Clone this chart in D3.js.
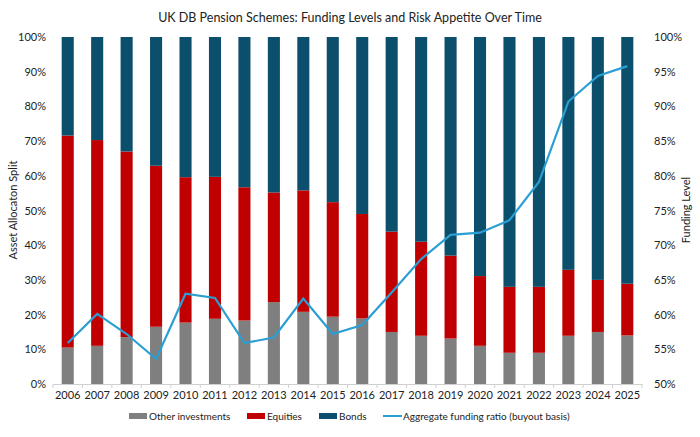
<!DOCTYPE html>
<html>
<head>
<meta charset="utf-8">
<script src="https://cdn.jsdelivr.net/npm/d3@7"></script>
<style>
  body { margin: 0; background: #fff; }
  svg { font-family: Lato, "Open Sans", sans-serif; }
</style>
</head>
<body>
<svg id="chart" width="700" height="437"></svg>
<script>
  // data
  let years = ['2006','2007','2008','2009','2010','2011','2012','2013','2014','2015',
               '2016','2017','2018','2019','2020','2021','2022','2023','2024','2025']
  let other    = [10.5, 11, 13.5, 16.5, 17.7, 18.8, 18.3, 23.6, 20.8, 19.4, 18.9, 15, 13.9, 13.1, 11, 9, 9, 13.9, 15, 14]
  let equities = [61.1, 59.3, 53.5, 46.4, 41.9, 40.9, 38.4, 31.6, 35, 33, 30.1, 28.9, 27.1, 23.9, 20.1, 19, 19, 19, 15, 14.9]
  let funding  = [55.9, 60.1, 57.2, 53.6, 63, 62.4, 55.9, 56.7, 62.3, 57.2, 58.5, 63.2, 68, 71.5, 71.8, 73.6, 79.1, 90.7, 94.4, 95.8]
  let leftTicks = [0, 10, 20, 30, 40, 50, 60, 70, 80, 90, 100]
  let rightTicks = [50, 55, 60, 65, 70, 75, 80, 85, 90, 95, 100]

  let colors = { other: '#7f7f7f', equities: '#c00000', bonds: '#0b4f6c', line: '#2b9fd3' }

  let svg = d3.select('#chart')
  let plotTop = 37, plotBottom = 384

  let x = d3.scaleBand().domain(years).range([53, 642]).paddingInner(0.59).paddingOuter(0.295)
  let yL = d3.scaleLinear().domain([0, 100]).range([plotBottom, plotTop])
  let yR = d3.scaleLinear().domain([50, 100]).range([plotBottom, plotTop])

  let rows = years.map((yr, i) => ({
    year: yr,
    other: other[i],
    equities: equities[i],
    bonds: 100 - other[i] - equities[i]
  }))

  let stack = d3.stack().keys(['other', 'equities', 'bonds'])
  let series = stack(rows)

  svg.append('text')
    .attr('x', 350).attr('y', 22)
    .attr('text-anchor', 'middle')
    .attr('font-size', 12.5)
    .attr('fill', '#222')
    .text('UK DB Pension Schemes: Funding Levels and Risk Appetite Over Time')

  svg.append('g')
    .selectAll('g')
    .data(series)
    .enter()
    .append('g')
    .attr('fill', d => colors[d.key])
    .selectAll('rect')
    .data(d => d)
    .enter()
    .append('rect')
    .attr('x', d => x(d.data.year))
    .attr('width', x.bandwidth())
    .attr('y', d => yL(d[1]))
    .attr('height', d => yL(d[0]) - yL(d[1]))

  // left axis labels
  let leftAxis = svg.append('g')
    .attr('transform', 'translate(46,0)')
    .call(d3.axisLeft(yL).tickValues(leftTicks).tickSize(0).tickPadding(0).tickFormat(d => d + '%'))
  leftAxis.select('.domain').remove()
  leftAxis.selectAll('text').attr('font-size', 11).attr('fill', '#222')
  leftAxis.attr('font-family', null)

  let rightAxis = svg.append('g')
    .attr('transform', 'translate(654,0)')
    .call(d3.axisRight(yR).tickValues(rightTicks).tickSize(0).tickPadding(0).tickFormat(d => d + '%'))
  rightAxis.select('.domain').remove()
  rightAxis.selectAll('text').attr('font-size', 11).attr('fill', '#222')
  rightAxis.attr('font-family', null)

  // x axis
  let xAxis = svg.append('g')
    .attr('transform', `translate(0,${plotBottom})`)
    .call(d3.axisBottom(x).tickSize(0).tickPadding(7))
  xAxis.select('.domain').attr('stroke', '#d0d0d0')
  xAxis.selectAll('text').attr('font-size', 11).attr('fill', '#222')
  xAxis.attr('font-family', null)
  svg.append('g')
    .selectAll('line')
    .data(years.concat(['end']))
    .enter()
    .append('line')
    .attr('x1', (d, i) => 53 + i * x.step())
    .attr('x2', (d, i) => 53 + i * x.step())
    .attr('y1', plotBottom).attr('y2', plotBottom + 4)
    .attr('stroke', '#d0d0d0')

  // funding line
  let line = d3.line()
    .x((d, i) => x(years[i]) + x.bandwidth() / 2)
    .y(d => yR(d))
  svg.append('path')
    .datum(funding)
    .attr('d', line)
    .attr('fill', 'none')
    .attr('stroke', colors.line)
    .attr('stroke-width', 2.2)

  // axis titles
  svg.append('text')
    .attr('transform', 'translate(17,210) rotate(-90)')
    .attr('text-anchor', 'middle')
    .attr('font-size', 11)
    .attr('fill', '#222')
    .text('Asset Allocaton Split')
  svg.append('text')
    .attr('transform', 'translate(690,210) rotate(-90)')
    .attr('text-anchor', 'middle')
    .attr('font-size', 11)
    .attr('fill', '#222')
    .text('Funding Level')

  // legend
  let legendItems = [
    { label: 'Other investments', key: 'other', x: 129, type: 'rect' },
    { label: 'Equities', key: 'equities', x: 247, type: 'rect' },
    { label: 'Bonds', key: 'bonds', x: 319, type: 'rect' },
    { label: 'Aggregate funding ratio (buyout basis)', key: 'line', x: 383, type: 'line' }
  ]
  let legend = svg.append('g').attr('transform', 'translate(0,416)')
  legendItems.forEach(it => {
    if (it.type === 'rect') {
      legend.append('rect').attr('x', it.x).attr('y', -3).attr('width', 18).attr('height', 6).attr('fill', colors[it.key])
    } else {
      legend.append('line').attr('x1', it.x).attr('x2', it.x + 19).attr('y1', 0).attr('y2', 0)
        .attr('stroke', colors.line).attr('stroke-width', 2)
    }
    legend.append('text').attr('x', it.x + 20).attr('y', 3.5)
      .attr('font-size', 10).attr('fill', '#222').text(it.label)
  })
</script>
</body>
</html>
